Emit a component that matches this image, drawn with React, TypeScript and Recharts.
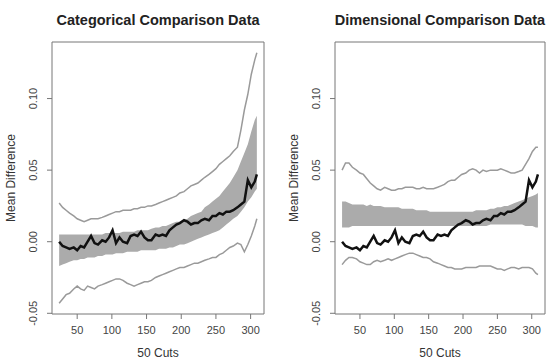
import React from 'react'
import { ComposedChart, Area, Line, XAxis, YAxis, ReferenceArea } from 'recharts'

// number of cuts (x positions of the series)
const cuts = [
  24, 29, 34, 39, 45, 50, 55, 60, 65, 70, 75, 80, 86, 91, 96, 101, 106, 111, 116, 122,
  127, 132, 137, 142, 147, 152, 157, 163, 168, 173, 178, 183, 188, 193, 198, 204, 209, 214, 219, 224,
  229, 234, 240, 245, 250, 255, 260, 265, 270, 275, 281, 286, 291, 296, 301, 306, 309,
]

// observed mean difference (same in both panels)
const meanDiff = [
  0.0, -0.003, -0.004, -0.005, -0.004, -0.006, -0.003, -0.004, 0.0, 0.004, -0.001, -0.002, 0.001, 0.0, 0.003, 0.008, -0.001, 0.003, 0.0, -0.001,
  0.004, 0.005, 0.004, 0.007, 0.003, 0.001, 0.001, 0.005, 0.004, 0.005, 0.004, 0.008, 0.01, 0.012, 0.013, 0.015, 0.014, 0.012, 0.013, 0.013,
  0.015, 0.016, 0.015, 0.018, 0.018, 0.02, 0.019, 0.021, 0.021, 0.022, 0.024, 0.026, 0.028, 0.043, 0.038, 0.042, 0.047,
]

// categorical comparison
const catUpper = [
  0.027, 0.024, 0.022, 0.02, 0.018, 0.016, 0.015, 0.014, 0.015, 0.016, 0.016, 0.016, 0.017, 0.018, 0.019, 0.02, 0.021, 0.021, 0.022, 0.022,
  0.022, 0.023, 0.023, 0.024, 0.024, 0.025, 0.025, 0.026, 0.027, 0.028, 0.029, 0.03, 0.031, 0.032, 0.034, 0.035, 0.037, 0.039, 0.04, 0.041,
  0.043, 0.045, 0.047, 0.049, 0.051, 0.054, 0.056, 0.058, 0.06, 0.063, 0.066, 0.078, 0.092, 0.103, 0.117, 0.127, 0.132,
]
const catLower = [
  -0.043, -0.04, -0.037, -0.036, -0.033, -0.031, -0.033, -0.034, -0.031, -0.032, -0.033, -0.031, -0.03, -0.029, -0.028, -0.027, -0.026, -0.026, -0.027, -0.029,
  -0.03, -0.031, -0.03, -0.029, -0.028, -0.028, -0.027, -0.025, -0.024, -0.023, -0.022, -0.021, -0.02, -0.019, -0.018, -0.018, -0.017, -0.016, -0.015, -0.015,
  -0.014, -0.013, -0.012, -0.011, -0.011, -0.009, -0.008, -0.006, -0.004, -0.003, -0.001, -0.002, -0.007, -0.002, 0.004, 0.011, 0.016,
]
const catBandLo = [
  -0.017, -0.016, -0.015, -0.014, -0.013, -0.013, -0.012, -0.012, -0.011, -0.011, -0.011, -0.01, -0.01, -0.009, -0.009, -0.009, -0.008, -0.008, -0.008, -0.007,
  -0.007, -0.007, -0.007, -0.006, -0.006, -0.006, -0.006, -0.006, -0.005, -0.005, -0.005, -0.004, -0.004, -0.003, -0.002, -0.002, -0.001, 0.0, 0.001, 0.002,
  0.003, 0.004, 0.005, 0.006, 0.007, 0.008, 0.01, 0.012, 0.014, 0.016, 0.018, 0.021, 0.024, 0.028, 0.031, 0.035, 0.037,
]
const catBandHi = [
  0.005, 0.005, 0.005, 0.005, 0.005, 0.005, 0.005, 0.005, 0.005, 0.005, 0.005, 0.005, 0.005, 0.006, 0.006, 0.006, 0.006, 0.006, 0.007, 0.007,
  0.007, 0.007, 0.008, 0.008, 0.008, 0.008, 0.009, 0.01, 0.01, 0.011, 0.011, 0.012, 0.013, 0.014, 0.014, 0.015, 0.016, 0.018, 0.019, 0.02,
  0.021, 0.024, 0.026, 0.028, 0.03, 0.032, 0.035, 0.038, 0.041, 0.045, 0.05, 0.056, 0.062, 0.068, 0.077, 0.085, 0.088,
]

// dimensional comparison
const dimUpper = [
  0.05, 0.055, 0.055, 0.052, 0.05, 0.048, 0.047, 0.044, 0.041, 0.039, 0.037, 0.036, 0.038, 0.037, 0.036, 0.036, 0.037, 0.037, 0.038, 0.038,
  0.038, 0.037, 0.037, 0.038, 0.037, 0.037, 0.037, 0.038, 0.039, 0.04, 0.042, 0.043, 0.043, 0.045, 0.047, 0.048, 0.05, 0.051, 0.05, 0.048,
  0.05, 0.049, 0.05, 0.05, 0.05, 0.051, 0.05, 0.049, 0.048, 0.048, 0.049, 0.05, 0.054, 0.058, 0.063, 0.066, 0.066,
]
const dimLower = [
  -0.016, -0.013, -0.011, -0.011, -0.012, -0.014, -0.015, -0.016, -0.016, -0.014, -0.013, -0.014, -0.013, -0.012, -0.013, -0.012, -0.011, -0.01, -0.009, -0.008,
  -0.008, -0.009, -0.01, -0.011, -0.011, -0.012, -0.014, -0.015, -0.016, -0.017, -0.018, -0.018, -0.019, -0.019, -0.019, -0.018, -0.018, -0.018, -0.018, -0.017,
  -0.017, -0.017, -0.017, -0.018, -0.019, -0.019, -0.02, -0.019, -0.018, -0.018, -0.019, -0.018, -0.018, -0.018, -0.019, -0.022, -0.023,
]
const dimBandLo = [
  0.01, 0.01, 0.01, 0.011, 0.011, 0.011, 0.011, 0.011, 0.011, 0.011, 0.011, 0.011, 0.011, 0.011, 0.011, 0.011, 0.011, 0.011, 0.011, 0.011,
  0.011, 0.011, 0.011, 0.011, 0.011, 0.011, 0.011, 0.011, 0.011, 0.011, 0.011, 0.011, 0.011, 0.011, 0.011, 0.011, 0.011, 0.011, 0.011, 0.011,
  0.011, 0.011, 0.012, 0.012, 0.012, 0.012, 0.012, 0.012, 0.012, 0.012, 0.012, 0.012, 0.011, 0.011, 0.011, 0.01, 0.01,
]
const dimBandHi = [
  0.028, 0.028, 0.027, 0.026, 0.026, 0.026, 0.026, 0.025, 0.026, 0.025, 0.025, 0.025, 0.024, 0.024, 0.024, 0.024, 0.024, 0.023, 0.023, 0.023,
  0.023, 0.022, 0.022, 0.022, 0.022, 0.021, 0.021, 0.021, 0.021, 0.021, 0.021, 0.021, 0.021, 0.021, 0.021, 0.021, 0.021, 0.021, 0.022, 0.022,
  0.022, 0.022, 0.023, 0.023, 0.024, 0.024, 0.025, 0.025, 0.026, 0.027, 0.028, 0.029, 0.03, 0.031, 0.032, 0.033, 0.034,
]

const xTicks = [50, 100, 150, 200, 250, 300]
const yTicks = [-0.05, 0, 0.05, 0.1]

const X_DOMAIN: [number, number] = [13.7, 319.3]
const Y_DOMAIN: [number, number] = [-0.0505, 0.1395]
const FONT = '"Liberation Sans", Arial, Helvetica, sans-serif'
const H = 361
const TOP = 42
const BOTTOM = 314

function YTick({ x, y, payload }: any) {
  const v = payload.value as number
  const tx = x - 12
  return (
    <text
      x={tx}
      y={y}
      transform={`rotate(-90 ${tx} ${y})`}
      textAnchor="middle"
      dominantBaseline="central"
      fontSize={11}
      fontFamily={FONT}
      fill="#444"
    >
      {v.toFixed(2)}
    </text>
  )
}

function XTick({ x, y, payload }: any) {
  return (
    <text x={x} y={y + 9} textAnchor="middle" dominantBaseline="central" fontSize={11} fontFamily={FONT} fill="#444">
      {payload.value}
    </text>
  )
}

interface PanelProps {
  title: string
  upper: number[]
  lower: number[]
  bandLo: number[]
  bandHi: number[]
  axisLeft: number
  right: number
}

function Panel({ title, upper, lower, bandLo, bandHi, axisLeft, right }: PanelProps) {
  const rows = cuts.map((c, i) => ({
    cut: c,
    mean: meanDiff[i],
    upper: upper[i],
    lower: lower[i],
    band: [bandLo[i], bandHi[i]],
  }))
  const boxCenter = (axisLeft + (275 - right)) / 2

  return (
    <div style={{ position: 'relative', width: 275, height: H }}>
      <div
        style={{
          position: 'absolute',
          left: boxCenter - 137,
          width: 274,
          top: 12,
          lineHeight: '16px',
          textAlign: 'center',
          fontSize: 14.5,
          fontWeight: 'bold',
          color: '#222',
          whiteSpace: 'nowrap',
        }}
      >
        {title}
      </div>
      <div
        style={{
          position: 'absolute',
          left: axisLeft - 41 - 100,
          top: (TOP + BOTTOM) / 2 - 8,
          width: 200,
          lineHeight: '16px',
          textAlign: 'center',
          fontSize: 12,
          color: '#333',
          transform: 'rotate(-90deg)',
        }}
      >
        Mean Difference
      </div>
      <div
        style={{
          position: 'absolute',
          left: boxCenter - 60,
          width: 120,
          top: 345,
          lineHeight: '16px',
          textAlign: 'center',
          fontSize: 12,
          color: '#333',
        }}
      >
        50 Cuts
      </div>
      <ComposedChart width={275} height={H} data={rows} margin={{ top: TOP, right, bottom: 0, left: 0 }}>
        <XAxis
          dataKey="cut"
          type="number"
          domain={X_DOMAIN}
          ticks={xTicks}
          allowDataOverflow
          axisLine={false}
          tickLine={{ stroke: '#777' }}
          tickSize={5}
          tickMargin={2}
          height={H - BOTTOM}
          tick={<XTick />}
          interval={0}
        />
        <YAxis
          type="number"
          domain={Y_DOMAIN}
          ticks={yTicks}
          allowDataOverflow
          axisLine={false}
          tickLine={{ stroke: '#777' }}
          tickSize={5}
          tickMargin={2}
          width={axisLeft}
          tick={<YTick />}
          interval={0}
        />
        <Area
          dataKey="band"
          type="linear"
          stroke="none"
          fill="#ababab"
          fillOpacity={1}
          isAnimationActive={false}
        />
        <Line dataKey="upper" type="linear" stroke="#9a9a9a" strokeWidth={1.5} dot={false} isAnimationActive={false} />
        <Line dataKey="lower" type="linear" stroke="#9a9a9a" strokeWidth={1.5} dot={false} isAnimationActive={false} />
        <Line dataKey="mean" type="linear" stroke="#111" strokeWidth={2.5} dot={false} isAnimationActive={false} />
        <ReferenceArea
          x1={X_DOMAIN[0]}
          x2={X_DOMAIN[1]}
          y1={Y_DOMAIN[0]}
          y2={Y_DOMAIN[1]}
          fill="none"
          stroke="#777"
          ifOverflow="visible"
        />
      </ComposedChart>
    </div>
  )
}

export default function App() {
  return (
    <div
      style={{
        position: 'absolute',
        left: 0,
        top: 0,
        width: 550,
        height: H,
        background: '#fff',
        display: 'flex',
        fontFamily: FONT,
      }}
    >
      <Panel
        title="Categorical Comparison Data"
        upper={catUpper}
        lower={catLower}
        bandLo={catBandLo}
        bandHi={catBandHi}
        axisLeft={52}
        right={11}
      />
      <Panel
        title="Dimensional Comparison Data"
        upper={dimUpper}
        lower={dimLower}
        bandLo={dimBandLo}
        bandHi={dimBandHi}
        axisLeft={60}
        right={5}
      />
    </div>
  )
}
